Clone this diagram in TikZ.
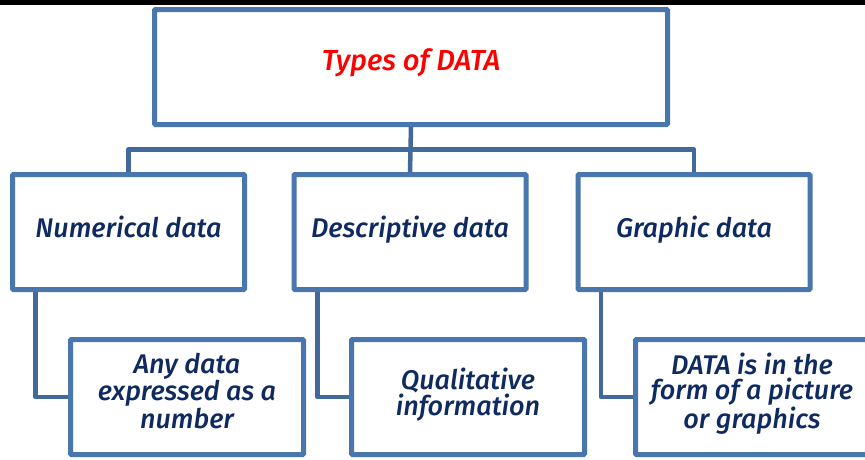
\documentclass[tikz,border=0pt]{standalone}
\usepackage{fontspec}
\setmainfont{Fira Sans}[ItalicFont={Fira Sans Medium Italic}]
\definecolor{boxline}{HTML}{4A76AE}
\definecolor{linkline}{HTML}{42699B}
\definecolor{navytext}{HTML}{0F2A60}
\definecolor{titlered}{HTML}{FF0000}
\begin{document}
\begin{tikzpicture}[x=1pt,y=-1pt,
  box/.style={draw=boxline, line width=5pt, fill=white, rounded corners=1pt,
    minimum width=232pt, minimum height=115pt, inner sep=0pt,
    text height=18pt, text depth=7pt,
    text=navytext, align=center, font=\itshape\fontsize{27}{25.5}\selectfont},
  leafbox/.style={box, minimum width=233pt},
  twolines/.style={text height=43.5pt},
  threelines/.style={text height=69pt},
  link/.style={draw=linkline, line width=4.5pt, line join=round}]
\useasboundingbox (0,0) rectangle (865,459);
\clip (0,0) rectangle (865,459);
\fill[black] (0,0) rectangle (865,5);
\node[box, minimum width=513pt, text=titlered, text height=16pt, text depth=10pt,
  font=\itshape\fontsize{29}{30}\selectfont] (top) at (411,67) {Types of DATA};
\node[box] (num) at (128.5,232) {Numerical data};
\node[box] (desc) at (410,232) {Descriptive data};
\node[box] (graph) at (694,232) {Graphic data};
\node[leafbox, threelines] (numleaf) at (187,397) {Any data\\expressed as a\\number};
\node[leafbox, twolines] (descleaf) at (468,397) {Qualitative\\information};
\node[leafbox, threelines] (graphleaf) at (752,397) {DATA is in the\\form of a picture\\or graphics};
\coordinate (bar) at (411,149.5);
\draw[link] (top.south) -- (desc.north);
\draw[link] (num.north) |- (bar) -| (graph.north);
\draw[link] ([xshift=-93pt]num.south) |- (numleaf.west);
\draw[link] ([xshift=-92.5pt]desc.south) |- (descleaf.west);
\draw[link] ([xshift=-93pt]graph.south) |- (graphleaf.west);
\end{tikzpicture}
\end{document}
